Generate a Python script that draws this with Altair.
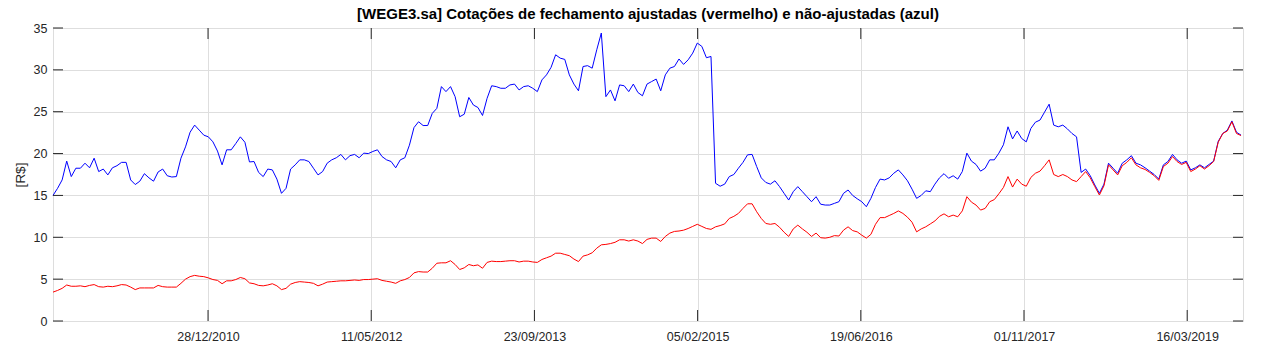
import altair as alt
import pandas as pd

# ---------------- data ----------------
START = "2009-09-09"      # first sample date
STEP_DAYS = 14            # one reading every 14 days

# non-adjusted close (blue)
nao_ajustada = [
    15.0, 15.85, 16.85, 19.1, 17.25, 18.25, 18.25, 18.85, 18.3, 19.45,
    17.85, 18.15, 17.45, 18.3, 18.55, 18.95, 18.95, 16.85, 16.3, 16.7,
    17.6, 17.1, 16.7, 17.8, 18.15, 17.35, 17.2, 17.25, 19.45, 20.8,
    22.55, 23.4, 22.8, 22.2, 22.0, 21.4, 20.3, 18.65, 20.45, 20.45,
    21.2, 22.0, 21.35, 19.0, 19.05, 17.75, 17.25, 18.15, 18.05, 16.95,
    15.25, 15.85, 18.15, 18.65, 19.25, 19.25, 19.05, 18.25, 17.45, 17.85,
    18.85, 19.25, 19.5, 19.9, 19.25, 19.75, 19.9, 19.5, 20.05, 20.0,
    20.25, 20.45, 19.65, 19.25, 19.05, 18.3, 19.25, 19.5, 21.0, 23.1,
    23.8, 23.35, 23.35, 24.8, 25.4, 28.0, 27.4, 28.0, 26.8, 24.4,
    24.7, 26.7, 25.8, 25.5, 24.55, 26.6, 28.1, 28.0, 27.8, 27.8,
    28.2, 28.3, 27.6, 28.0, 28.1, 27.8, 27.4, 28.8, 29.4, 30.3,
    31.8, 31.4, 31.25, 29.4, 28.3, 27.5, 30.4, 30.5, 30.2, 32.4,
    34.4, 26.8, 27.6, 26.3, 28.2, 28.1, 27.4, 28.3, 27.3, 26.9,
    28.3, 28.6, 28.9, 27.5, 29.4, 30.2, 30.4, 31.3, 30.65, 31.2,
    32.0, 33.2, 32.8, 31.45, 31.6, 16.45, 16.1, 16.35, 17.25, 17.5,
    18.25, 18.95, 19.85, 19.9, 18.45, 17.1, 16.55, 16.35, 16.75, 16.05,
    15.25, 14.45, 15.45, 16.05, 15.45, 14.85, 14.25, 14.85, 13.95, 13.85,
    13.85, 14.05, 14.25, 15.25, 15.65, 15.0, 14.6, 14.25, 13.65, 14.65,
    15.95, 16.95, 16.85, 17.1, 17.65, 18.05, 17.45, 16.75, 15.75, 14.65,
    15.0, 15.55, 15.45, 16.35, 17.1, 17.6, 17.05, 17.35, 16.95, 17.85,
    20.05, 19.1, 18.7, 17.9, 18.25, 19.25, 19.25, 20.05, 21.05, 23.2,
    21.75, 22.7, 21.8, 21.4, 23.0, 23.75, 24.0, 24.95, 25.9, 23.4,
    23.2, 23.4, 22.95, 22.4, 22.0, 17.75, 18.15, 17.35, 16.25, 15.25,
    16.35, 18.85, 18.25, 17.65, 18.85, 19.25, 19.75, 18.85, 18.65, 18.3,
    17.9, 17.5, 16.95, 18.65, 19.05, 19.9, 19.25, 18.85, 19.1, 18.05,
    18.3, 18.65, 18.3, 18.7, 19.1, 21.45, 22.4, 22.8, 23.9, 22.55,
    22.2,
]

# adjusted close (red)
ajustada = [
    3.45, 3.65, 3.9, 4.3, 4.15, 4.15, 4.2, 4.1, 4.25, 4.35,
    4.1, 4.05, 4.15, 4.1, 4.2, 4.35, 4.3, 4.05, 3.75, 3.95,
    3.95, 3.95, 3.95, 4.25, 4.1, 4.05, 4.05, 4.05, 4.5, 5.0,
    5.3, 5.45, 5.35, 5.3, 5.15, 4.95, 4.85, 4.45, 4.8, 4.8,
    4.95, 5.2, 5.05, 4.55, 4.45, 4.25, 4.2, 4.3, 4.45, 4.2,
    3.75, 3.9, 4.4, 4.6, 4.7, 4.65, 4.6, 4.5, 4.2, 4.4,
    4.65, 4.7, 4.75, 4.8, 4.8, 4.85, 4.9, 4.85, 4.95, 4.95,
    5.0, 5.05, 4.85, 4.75, 4.65, 4.5, 4.8, 4.95, 5.2, 5.75,
    5.9, 5.85, 5.85, 6.3, 6.9, 6.95, 6.95, 7.2, 6.75, 6.15,
    6.35, 6.75, 6.6, 6.7, 6.3, 7.0, 7.15, 7.1, 7.1, 7.15,
    7.2, 7.2, 7.05, 7.15, 7.15, 7.05, 7.0, 7.35, 7.55, 7.75,
    8.1, 8.1, 7.95, 7.8, 7.4, 7.1, 7.75, 7.9, 8.15, 8.7,
    9.1, 9.15, 9.25, 9.4, 9.7, 9.7, 9.55, 9.7, 9.55, 9.25,
    9.75, 9.9, 9.9, 9.5, 10.1, 10.5, 10.7, 10.75, 10.85, 11.05,
    11.3, 11.55, 11.3, 11.05, 10.95, 11.25, 11.4, 11.6, 12.25, 12.5,
    12.85, 13.45, 14.0, 14.0, 13.05, 12.25, 11.65, 11.55, 11.65, 11.2,
    10.6, 10.1, 11.0, 11.45, 11.0, 10.6, 10.1, 10.5, 9.95, 9.9,
    10.0, 10.2, 10.15, 10.85, 11.25, 10.8, 10.65, 10.25, 9.9, 10.35,
    11.55, 12.35, 12.35, 12.6, 12.85, 13.15, 12.85, 12.4, 11.8, 10.65,
    11.0, 11.25, 11.6, 11.95, 12.5, 12.8, 12.45, 12.65, 12.45, 13.15,
    14.85, 14.2, 13.85, 13.25, 13.45, 14.25, 14.5, 15.2, 15.95, 17.25,
    16.0, 16.95, 16.35, 16.1, 17.15, 17.65, 17.9, 18.55, 19.25, 17.5,
    17.25, 17.5, 17.25, 16.85, 16.65, 17.25, 17.85, 17.1, 16.05, 15.05,
    16.15, 18.65, 18.05, 17.45, 18.55, 18.95, 19.5, 18.65, 18.3, 18.1,
    17.75, 17.35, 16.8, 18.45, 18.85, 19.65, 19.05, 18.7, 18.95, 17.85,
    18.15, 18.55, 18.15, 18.55, 19.05, 21.35, 22.4, 22.7, 23.8, 22.4,
    22.15,
]

y_ticks = [0, 5, 10, 15, 20, 25, 30, 35]
x_tick_dates = ["2010-12-28", "2012-05-11", "2013-09-23", "2015-02-05",
                "2016-06-19", "2017-11-01", "2019-03-16"]
x_domain = ["2009-09-09", "2019-09-03"]

TITLE = "[WEGE3.sa] Cotações de fechamento ajustadas (vermelho) e não-ajustadas (azul)"
Y_TITLE = "[R$]"

# ---------------- build ----------------
n = min(len(nao_ajustada), len(ajustada))
dates = pd.date_range(START, periods=n, freq=f"{STEP_DAYS}D").strftime("%Y-%m-%d")
df = pd.DataFrame({"date": list(dates), "nao": nao_ajustada[:n], "aj": ajustada[:n]})


def dt(s):
    y, m, d = (int(p) for p in s.split("-"))
    return alt.DateTime(year=y, month=m, date=d, utc=True)


W, H = 1190, 293
FONT = "Liberation Sans"
DARK = "#262626"
GRID = "#dedede"
LABEL_SIZE = 12.5

x_scale = alt.Scale(type="utc", domain=[dt(s) for s in x_domain], nice=False)
y_scale = alt.Scale(domain=[0, 35], nice=False, zero=True)

x_axis = alt.Axis(values=[dt(s) for s in x_tick_dates], format="%d/%m/%Y",
                  title=None, labelPadding=9.5, labelFlush=False,
                  grid=True, gridColor=GRID, gridWidth=1, ticks=False, domain=False,
                  labelFont=FONT, labelFontSize=LABEL_SIZE, labelColor=DARK)
y_axis = alt.Axis(values=y_ticks, title=Y_TITLE, labelPadding=6, titlePadding=6,
                  grid=True, gridColor=GRID, gridWidth=1, ticks=False, domain=False,
                  labelFont=FONT, labelFontSize=LABEL_SIZE, labelColor=DARK,
                  titleFont=FONT, titleFontSize=13.5, titleFontWeight="normal",
                  titleColor=DARK)

base = alt.Chart(df)
blue_line = base.mark_line(color="#0000ff", strokeWidth=1).encode(
    x=alt.X("date:T", scale=x_scale, axis=x_axis),
    y=alt.Y("nao:Q", scale=y_scale, axis=y_axis),
)
red_line = base.mark_line(color="#ff0000", strokeWidth=1).encode(
    x=alt.X("date:T", scale=x_scale),
    y=alt.Y("aj:Q", scale=y_scale),
)

yt = alt.Chart(pd.DataFrame({"v": y_ticks}))
xt = alt.Chart(pd.DataFrame({"d": x_tick_dates}))
TL = 10
left_ticks = yt.mark_rule(color=DARK, strokeWidth=1).encode(
    y=alt.Y("v:Q", scale=y_scale), x=alt.value(0), x2=alt.value(TL))
right_ticks = yt.mark_rule(color=DARK, strokeWidth=1).encode(
    y=alt.Y("v:Q", scale=y_scale), x=alt.value(W - TL), x2=alt.value(W))
bottom_ticks = xt.mark_rule(color=DARK, strokeWidth=1).encode(
    x=alt.X("d:T", scale=x_scale), y=alt.value(H - 11), y2=alt.value(H))
top_ticks = xt.mark_rule(color=DARK, strokeWidth=1).encode(
    x=alt.X("d:T", scale=x_scale), y=alt.value(0), y2=alt.value(11))

chart = (
    alt.layer(blue_line, red_line, left_ticks, right_ticks, bottom_ticks, top_ticks)
    .properties(
        width=W, height=H,
        title=alt.TitleParams(TITLE, font=FONT, fontSize=15, fontWeight="bold",
                              color="black", anchor="middle", offset=0,
                              baseline="top"),
        autosize=alt.AutoSizeParams(type="none"),
        padding={"left": 53, "top": 28, "right": 31, "bottom": 35},
    )
    .configure_view(stroke=DARK, strokeWidth=1)
    .configure(background="white")
)

chart.save("out.html", embed_options={"renderer": "svg", "actions": False})
